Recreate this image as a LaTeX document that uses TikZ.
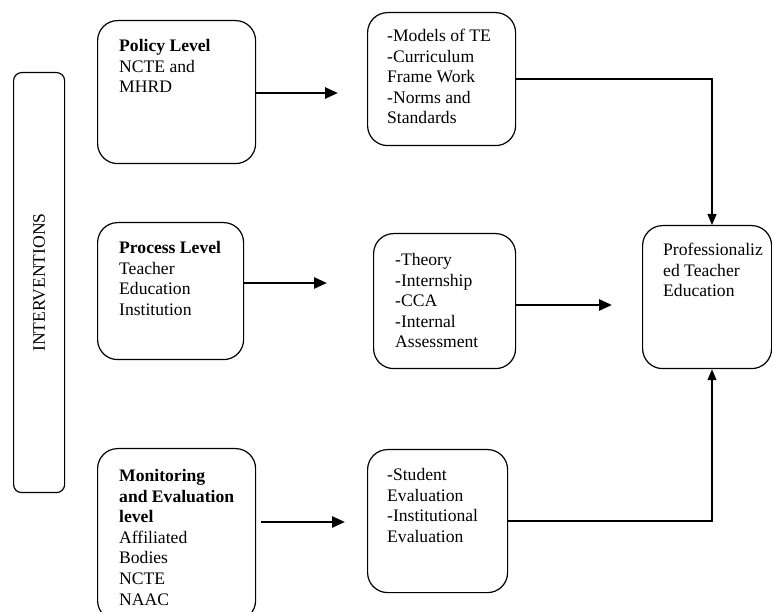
\documentclass[tikz,border=0pt]{standalone}
\usepackage{fontspec}
\setmainfont{Liberation Serif}
\usetikzlibrary{arrows.meta,calc}
\begin{document}
\begin{tikzpicture}[x=1pt,y=-1pt,
  box/.style={draw, line width=1.2pt, rounded corners=20pt, inner sep=0pt, anchor=north west},
  txt/.style={inner sep=0pt, anchor=north west, align=left, font=\fontsize{17.6}{20.6}\selectfont},
  thickarrow/.style={line width=2.6pt, -{Triangle[length=13pt,width=11pt]}},
  thinarrow/.style={line width=1.3pt, -{Triangle[length=11pt,width=9pt]}}]
\useasboundingbox (0,0) rectangle (772,612);
\clip (0,0) rectangle (772,612);

\node[box, rounded corners=8pt, minimum width=51pt, minimum height=420pt] (intv) at (13,72) {};
\node[rotate=90, inner sep=0pt, font=\fontsize{17.6}{20.6}\selectfont] (intvtxt) at (intv.center) {INTERVENTIONS};

\node[box, minimum width=158pt, minimum height=143pt] (policy) at (97,20) {};
\node[txt] (policytxt) at (119,39) {\textbf{Policy Level}\\NCTE and\\MHRD};

\node[box, minimum width=148pt, minimum height=133pt] (models) at (367,12) {};
\node[txt] (modelstxt) at (387,29) {-Models of TE\\-Curriculum\\Frame Work\\-Norms and\\Standards};

\node[box, minimum width=146pt, minimum height=137pt] (process) at (97,222) {};
\node[txt] (processtxt) at (119,241) {\textbf{Process Level}\\Teacher\\Education\\Institution};

\node[box, minimum width=142pt, minimum height=135pt] (theory) at (373,233) {};
\node[txt] (theorytxt) at (395,253) {-Theory\\-Internship\\-CCA\\-Internal\\Assessment};

\node[box, minimum width=129pt, minimum height=143pt] (prof) at (642,225) {};
\node[txt] (proftxt) at (663,243) {Professionaliz\\ed Teacher\\Education};

\node[box, minimum width=158pt, minimum height=172pt] (monitor) at (97,448) {};
\node[txt] (monitortxt) at (119,469) {\textbf{Monitoring}\\\textbf{and Evaluation}\\\textbf{level}\\Affiliated\\Bodies\\NCTE\\NAAC};

\node[box, minimum width=140pt, minimum height=143pt] (eval) at (367,449) {};
\node[txt] (evaltxt) at (387,468) {-Student\\Evaluation\\-Institutional\\Evaluation};

\coordinate (pa) at (338,93);
\coordinate (pra) at (327,283);
\coordinate (ta) at (612,305);
\coordinate (ma) at (345,522);
\coordinate (jx) at (712,0);

\draw[thickarrow] (policy.east |- pa) -- (pa);
\draw[thickarrow] (process.east |- pra) -- (pra);
\draw[thickarrow] (theory.east |- ta) -- (ta);
\draw[thickarrow] ([xshift=5pt]monitor.east |- ma) -- (ma);
\draw[thinarrow] (models.east) -| (jx |- prof.north);
\draw[thinarrow] (eval.east) -| (jx |- prof.south);
\end{tikzpicture}
\end{document}
